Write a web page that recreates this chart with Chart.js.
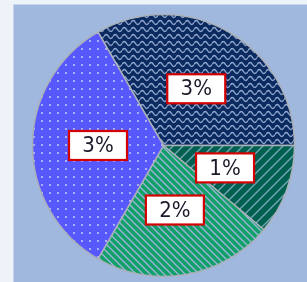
<!DOCTYPE html>
<html>
<head>
<meta charset="utf-8">
<script src="https://cdn.jsdelivr.net/npm/chart.js@4"></script>
<style>
  html, body { margin: 0; padding: 0; background: #eef2f9; }
  #wrap {
    position: absolute; left: 13px; top: 4px; width: 294px; height: 278px;
    background: #a0b8de; border-left: 1px solid #c9d5ec; border-top: 1px solid #c9d5ec;
    box-sizing: border-box;
  }
</style>
</head>
<body>
<div id="wrap"><canvas id="pie"></canvas></div>
<script>
const categories = ['A', 'B', 'C', 'D'];
const values = [3, 1, 2, 3];
const valueLabels = ['3%', '1%', '2%', '3%'];

// motifs de remplissage
function tile(w, h, draw) {
  const c = document.createElement('canvas');
  c.width = w; c.height = h;
  draw(c.getContext('2d'), w, h);
  return c.getContext('2d').createPattern(c, 'repeat');
}

const waves = tile(9, 7, (g, w, h) => {
  g.fillStyle = '#0b2a60'; g.fillRect(0, 0, w, h);
  g.strokeStyle = '#8ea4cc'; g.lineWidth = 1.5;
  g.beginPath();
  g.moveTo(0, 3.5);
  g.quadraticCurveTo(2.25, -0.5, 4.5, 3.5);
  g.quadraticCurveTo(6.75, 7.5, 9, 3.5);
  g.stroke();
});

const diagUp = tile(10, 10, (g, w, h) => {
  g.fillStyle = '#00604f'; g.fillRect(0, 0, w, h);
  g.strokeStyle = '#6fa3b0'; g.lineWidth = 1.5;
  g.beginPath();
  g.moveTo(-1, 11); g.lineTo(11, -1);
  g.moveTo(-1, 1); g.lineTo(1, -1);
  g.moveTo(9, 11); g.lineTo(11, 9);
  g.stroke();
});

const diagDown = tile(7, 7, (g, w, h) => {
  g.fillStyle = '#10a068'; g.fillRect(0, 0, w, h);
  g.strokeStyle = '#a2b4de'; g.lineWidth = 1.3;
  g.beginPath();
  g.moveTo(-1, -1); g.lineTo(8, 8);
  g.moveTo(-1, 6); g.lineTo(1, 8);
  g.moveTo(6, -1); g.lineTo(8, 1);
  g.stroke();
});

const dots = tile(8, 8, (g, w, h) => {
  g.fillStyle = '#5858ff'; g.fillRect(0, 0, w, h);
  g.fillStyle = '#a8b0f4';
  g.fillRect(3, 3, 2, 2);
});

// étiquettes encadrées en rouge
const boxLabels = {
  id: 'boxLabels',
  afterDatasetsDraw(chart) {
    const ctx = chart.ctx;
    const arcs = chart.getDatasetMeta(0).data;
    ctx.save();
    ctx.font = '22px "DejaVu Sans Condensed", "Liberation Sans", sans-serif';
    ctx.textAlign = 'center';
    ctx.textBaseline = 'middle';
    arcs.forEach((arc, i) => {
      const p = arc.tooltipPosition();
      const w = 58, h = 29;
      ctx.fillStyle = '#ffffff';
      ctx.fillRect(p.x - w / 2, p.y - h / 2, w, h);
      ctx.strokeStyle = '#d40000';
      ctx.lineWidth = 2.2;
      ctx.strokeRect(p.x - w / 2, p.y - h / 2, w, h);
      ctx.fillStyle = '#1a1a2a';
      ctx.fillText(valueLabels[i], p.x, p.y + 1);
    });
    ctx.restore();
  }
};

new Chart(document.getElementById('pie'), {
  type: 'pie',
  data: {
    labels: categories,
    datasets: [{
      data: values,
      backgroundColor: [waves, diagUp, diagDown, dots],
      borderColor: '#aab0b8',
      borderWidth: 1.5
    }]
  },
  options: {
    responsive: true,
    maintainAspectRatio: false,
    animation: false,
    rotation: -30,
    radius: 131,
    layout: { padding: { left: 6, right: 0, top: 4, bottom: 0 } },
    plugins: {
      legend: { display: false },
      tooltip: { enabled: false }
    }
  },
  plugins: [boxLabels]
});
</script>
</body>
</html>
